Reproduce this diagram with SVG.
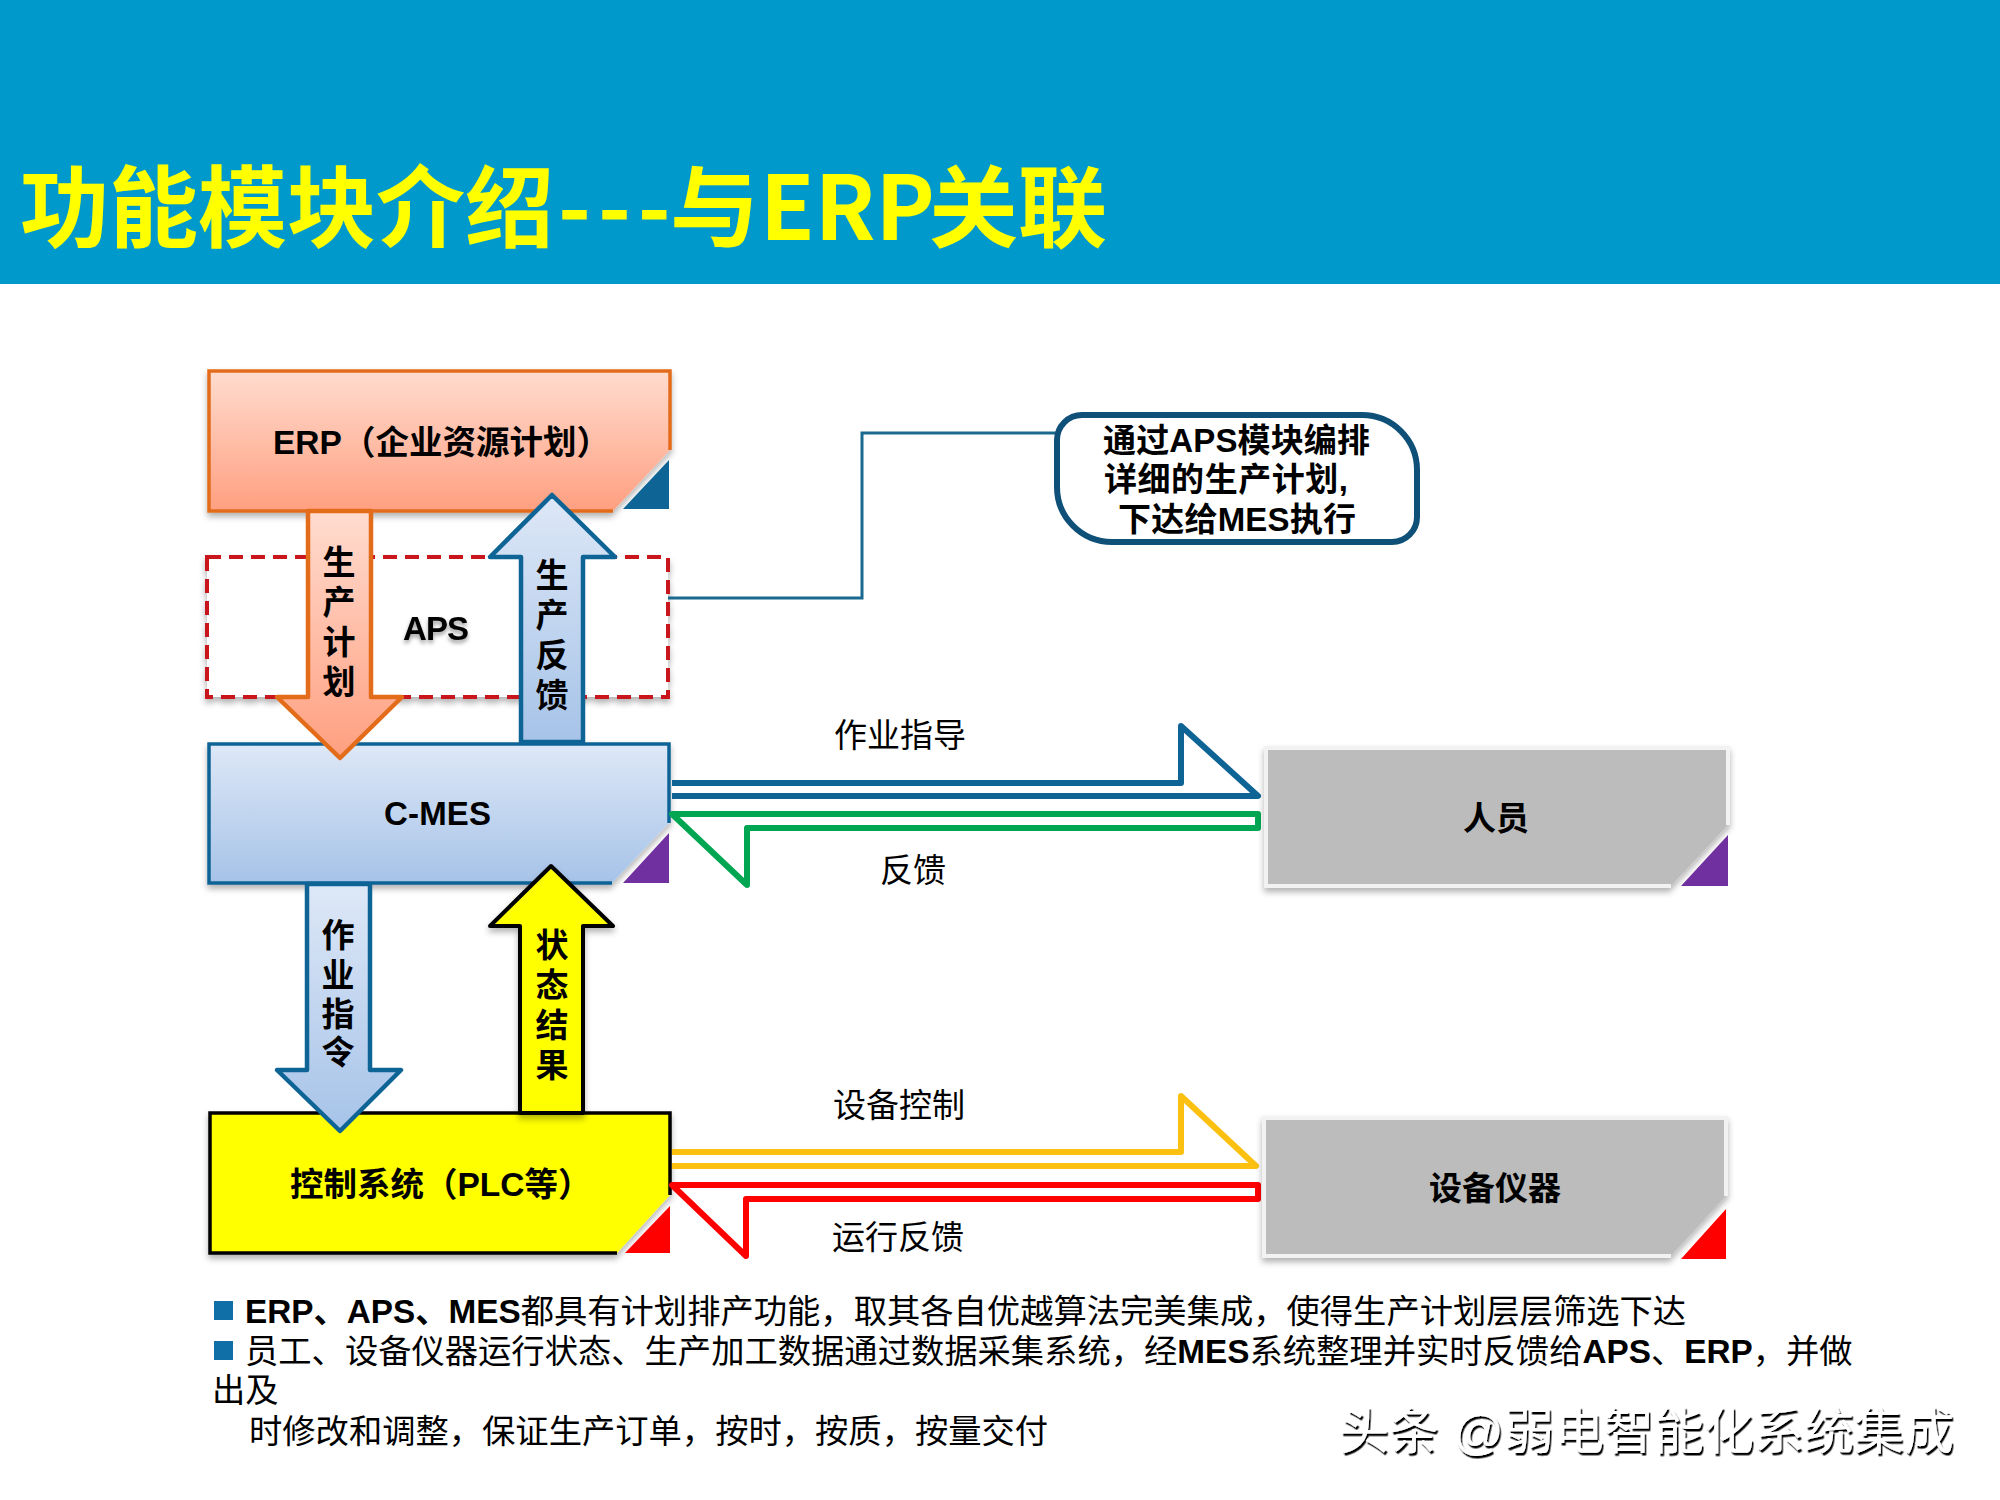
<svg xmlns="http://www.w3.org/2000/svg" width="2000" height="1500" viewBox="0 0 2000 1500">
<defs>
<style>
text{font-family:"Liberation Sans","Noto Sans CJK SC",sans-serif;fill:#000}
.b{font-weight:700;font-size:33px}
.l{font-size:33px;text-anchor:middle}
.c{text-anchor:middle}
.p{font-size:33.3px}
.p tspan{font-weight:700}
.thick{stroke-width:6;stroke-linejoin:round;fill:#fff}
.box{stroke-width:3.5}
</style>
<linearGradient id="gO" x1="0" y1="0" x2="0" y2="1"><stop offset="0" stop-color="#ffdccf"/><stop offset="1" stop-color="#ff9f80"/></linearGradient>
<linearGradient id="gB" x1="0" y1="0" x2="0" y2="1"><stop offset="0" stop-color="#dee8f7"/><stop offset="1" stop-color="#a6c3e8"/></linearGradient>
<filter id="sh" x="-5%" y="-5%" width="110%" height="115%"><feDropShadow dx="0" dy="4" stdDeviation="3" flood-color="#000" flood-opacity=".3"/></filter>
<filter id="ts" x="-10%" y="-20%" width="120%" height="150%"><feDropShadow dx="0" dy="3" stdDeviation="2" flood-color="#000" flood-opacity=".4"/></filter>
<filter id="wm" x="-2%" y="-10%" width="104%" height="125%"><feDropShadow dx="1.5" dy="2.5" stdDeviation=".4" flood-color="#000" flood-opacity="1"/></filter>
</defs>
<rect width="2000" height="1500" fill="#fff"/>
<g id="header">
<rect width="2000" height="284" fill="#0099cc"/>
<text y="240" font-size="89" font-weight="700" style="fill:#ffff00;font-family:'Noto Sans CJK SC',sans-serif"><tspan x="20">功能模块介绍</tspan><tspan x="558" letter-spacing="7">---</tspan><tspan x="670">与</tspan><tspan x="760">ERP</tspan><tspan x="929">关联</tspan></text>
</g>
<g id="aps">
<rect x="207" y="557" width="461" height="140" fill="#fff" stroke="#c8171e" stroke-width="4" stroke-dasharray="14 8" filter="url(#sh)"/>
<text class="b c" x="436" y="640" filter="url(#ts)" textLength="66">APS</text>
</g>
<g id="erp">
<path class="box" d="M613 511H209V371H670V450" fill="url(#gO)" stroke="#e36c1a" filter="url(#sh)"/>
<path d="M669 460V509H623Z" fill="#0f6496"/>
<text class="b" x="273" y="454" style="font-size:33.5px">ERP（企业资源计划）</text>
</g>
<g id="cmes">
<path class="box" d="M612 883H209V744H669V823" fill="url(#gB)" stroke="#0f6496" filter="url(#sh)"/>
<path d="M669 833V883H623Z" fill="#7030a0"/>
<text class="b" x="384" y="825" textLength="107">C-MES</text>
</g>
<g id="control">
<path class="box" d="M617 1253H210V1113H670V1195" fill="#ffff00" stroke="#000" filter="url(#sh)"/>
<path d="M670 1206V1253H625Z" fill="#ff0000"/>
<text class="b" x="290" y="1196" style="font-size:33.5px">控制系统（PLC等）</text>
</g>
<g id="connectors">
<path id="a-plan" d="M308 511V697H277L340 758L402 697H371V511Z" fill="url(#gO)" stroke="#e36c1a" stroke-width="4.5" stroke-linejoin="round"/>
<path id="a-feedback" d="M521 742V557H490L552 495L615 557H583V742Z" fill="url(#gB)" stroke="#0f6496" stroke-width="4.5" stroke-linejoin="round"/>
<path id="a-cmd" d="M307 884V1070H277L340 1131L401 1070H370V884Z" fill="url(#gB)" stroke="#0f6496" stroke-width="4.5" stroke-linejoin="round"/>
<path id="a-state" d="M520 1113V926H490L551 866L613 926H583V1113Z" fill="#ffff00" stroke="#000" stroke-width="4" stroke-linejoin="round" filter="url(#sh)"/>
<path id="a-aps" d="M668 598H862V433H1057" fill="none" stroke="#1a6a8f" stroke-width="3"/>
<path id="a-guide" class="thick" d="M672 783H1181V726L1258 796H672" stroke="#0f6496"/>
<path id="a-fb" class="thick" d="M672 814H1258V828H747V885Z" stroke="#00a651"/>
<path id="a-dev" class="thick" d="M672 1152H1181V1096L1256 1166H672" stroke="#fbc010"/>
<path id="a-run" class="thick" d="M672 1185H1258V1199H746V1256Z" stroke="#ff0000"/>
</g>
<g id="arrow-labels">
<text class="b c" x="339 339 339 339" y="574 614 654 694">生产计划</text>
<text class="b c" x="552 552 552 552" y="587 627 667 707">生产反馈</text>
<text class="b c" x="338 338 338 338" y="947 987 1026 1064">作业指令</text>
<text class="b c" x="552 552 552 552" y="957 997 1037 1077">状态结果</text>
</g>
<g id="line-labels">
<text class="l" x="900" y="747">作业指导</text>
<text class="l" x="913" y="882">反馈</text>
<text class="l" x="899" y="1117">设备控制</text>
<text class="l" x="898" y="1249">运行反馈</text>
</g>
<g id="callout">
<path d="M1082 415H1362A55 55 0 0 1 1417 470V517A25 25 0 0 1 1392 542H1112A55 55 0 0 1 1057 487V440A25 25 0 0 1 1082 415Z" fill="#fff" stroke="#0f5078" stroke-width="6"/>
<text class="b" x="1103" y="452" textLength="267">通过APS模块编排</text>
<text class="b" x="1104" y="491" textLength="244">详细的生产计划,</text>
<text class="b" x="1118" y="531" textLength="238">下达给MES执行</text>
</g>
<g id="person">
<path d="M1671 886H1266V748H1728V825" fill="#bcbcbc" stroke="#f2f2f2" stroke-width="4" filter="url(#sh)"/>
<path d="M1728 835V886H1681Z" fill="#7030a0"/>
<text class="b c" x="1496" y="830">人员</text>
</g>
<g id="device">
<path d="M1671 1256H1264V1118H1726V1196" fill="#bcbcbc" stroke="#f2f2f2" stroke-width="4" filter="url(#sh)"/>
<path d="M1726 1209V1259H1681Z" fill="#ff0000"/>
<text class="b c" x="1495" y="1200">设备仪器</text>
</g>
<g id="notes">
<rect x="214" y="1301" width="19" height="19" fill="#0f6fa6"/>
<rect x="214" y="1341" width="19" height="19" fill="#0f6fa6"/>
<text class="p" x="245" y="1323"><tspan>ERP、APS、MES</tspan>都具有计划排产功能，取其各自优越算法完美集成，使得生产计划层层筛选下达</text>
<text class="p" x="245" y="1363">员工、设备仪器运行状态、生产加工数据通过数据采集系统，经<tspan>MES</tspan>系统整理并实时反馈给<tspan>APS</tspan>、<tspan>ERP</tspan>，并做</text>
<text class="p" x="212" y="1402">出及</text>
<text class="p" x="249" y="1443">时修改和调整，保证生产订单，按时，按质，按量交付</text>
</g>
<g id="watermark">
<text y="1449" font-size="50" filter="url(#wm)" style="fill:#fff"><tspan x="1339">头条</tspan><tspan x="1453">@</tspan><tspan x="1504">弱电智能化系统集成</tspan></text>
</g>
</svg>
